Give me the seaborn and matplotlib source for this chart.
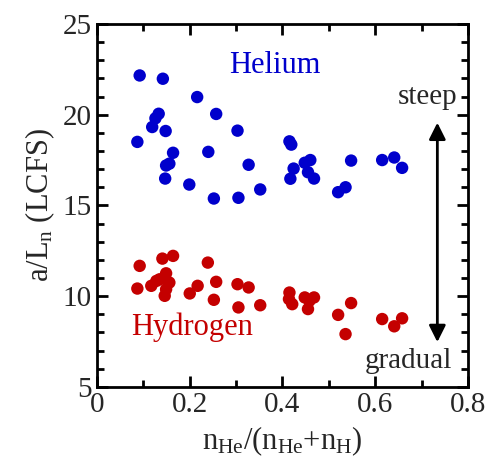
import numpy as np
import pandas as pd
import matplotlib
matplotlib.use('Agg')
import matplotlib.pyplot as plt
import seaborn as sns
from matplotlib.ticker import MultipleLocator

############# data
he_x = [0.092, 0.142, 0.216, 0.133, 0.126, 0.257, 0.119, 0.148, 0.303, 0.087,
        0.164, 0.240, 0.156, 0.149, 0.327, 0.147, 0.199, 0.352, 0.252, 0.305,
        0.415, 0.419, 0.424, 0.417, 0.448, 0.460, 0.455, 0.468, 0.548, 0.520,
        0.536, 0.615, 0.641, 0.658]
he_y = [22.16, 21.98, 20.97, 20.05, 19.80, 20.04, 19.32, 19.10, 19.12, 18.50,
        17.90, 17.95, 17.30, 17.20, 17.24, 16.48, 16.15, 15.88, 15.38, 15.42,
        18.53, 18.35, 17.03, 16.47, 17.35, 17.50, 16.83, 16.48, 17.47, 15.73,
        16.00, 17.50, 17.64, 17.07]

h_x = [0.092, 0.141, 0.164, 0.239, 0.087, 0.117, 0.128, 0.149, 0.135, 0.156,
       0.149, 0.146, 0.200, 0.217, 0.257, 0.252, 0.303, 0.327, 0.305, 0.352,
       0.415, 0.414, 0.421, 0.448, 0.468, 0.458, 0.455, 0.548, 0.520, 0.536,
       0.615, 0.641, 0.658]
h_y = [11.67, 12.07, 12.22, 11.85, 10.42, 10.57, 10.84, 11.26, 10.93, 10.75,
       10.38, 10.02, 10.15, 10.57, 10.79, 9.80, 10.66, 10.48, 9.38, 9.50,
       10.20, 9.84, 9.56, 9.93, 9.93, 9.74, 9.29, 9.62, 8.97, 7.91,
       8.74, 8.34, 8.78]

species = ['Helium', 'Hydrogen']
colors = {'Helium': '#0000CC', 'Hydrogen': '#C40000'}

df = pd.DataFrame({
    'x': he_x + h_x,
    'y': he_y + h_y,
    'gas': ['Helium'] * len(he_x) + ['Hydrogen'] * len(h_x),
})

############# style
sns.set_style('ticks')
plt.rcParams['font.family'] = ['Liberation Serif', 'DejaVu Serif']
plt.rcParams['mathtext.fontset'] = 'custom'
plt.rcParams['mathtext.rm'] = 'Liberation Serif'
plt.rcParams['mathtext.it'] = 'Liberation Serif:italic'

fig = plt.figure(figsize=(4.9, 4.69), dpi=100)
ax = fig.add_axes([0.198, 0.175, 0.757, 0.774])

sns.scatterplot(data=df, x='x', y='y', hue='gas', palette=colors,
                s=80, edgecolor='none', legend=False, ax=ax)

ax.set_xlim(0, 0.8)
ax.set_ylim(5, 25)
ax.xaxis.set_major_locator(MultipleLocator(0.2))
ax.xaxis.set_minor_locator(MultipleLocator(0.1))
ax.yaxis.set_major_locator(MultipleLocator(5))
ax.yaxis.set_minor_locator(MultipleLocator(1))
ax.set_xticks([0, 0.2, 0.4, 0.6, 0.8])
ax.set_xticklabels(['0', '0.2', '0.4', '0.6', '0.8'])

ax.tick_params(which='both', direction='in', top=True, right=True,
               width=2, labelsize=21, color='black')
ax.tick_params(which='major', length=8, pad=4)
ax.tick_params(which='minor', length=5)
for sp in ax.spines.values():
    sp.set_linewidth(2)
    sp.set_color('black')

ax.set_xlabel(r'n$_{\mathregular{He}}$/(n$_{\mathregular{He}}$+n$_{\mathregular{H}}$)',
              fontsize=22, labelpad=4)
ax.set_ylabel(r'a/L$_{\mathregular{n}}$ (LCFS)', fontsize=22, labelpad=4)

############# annotations
ax.text(0.383, 22.7, 'Helium', color=colors['Helium'], fontsize=22,
        ha='center', va='center')
ax.text(0.074, 8.3, 'Hydrogen', color=colors['Hydrogen'], fontsize=22,
        ha='left', va='center')
ax.text(0.778, 21.0, 'steep', fontsize=21, ha='right', va='center')
ax.text(0.765, 6.43, 'gradual', fontsize=21, ha='right', va='center')
ax.annotate('', xy=(0.734, 19.56), xytext=(0.734, 7.47),
            arrowprops=dict(arrowstyle='<|-|>', color='black', lw=2,
                            mutation_scale=25, shrinkA=0, shrinkB=0))

plt.savefig('out.png', dpi=100)
